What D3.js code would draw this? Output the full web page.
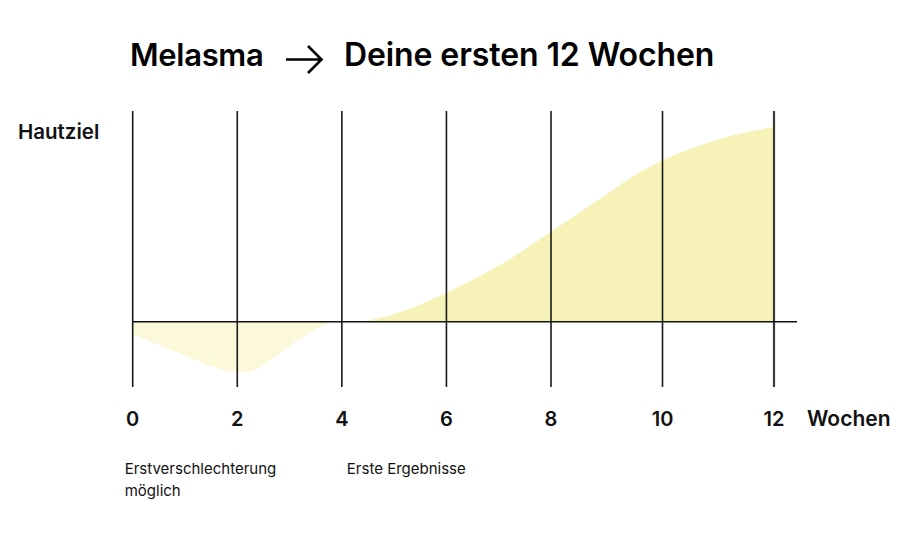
<!DOCTYPE html>
<html><head><meta charset="utf-8">
<script src="https://cdn.jsdelivr.net/npm/d3@7"></script>
<style>body{margin:0;background:#fff}svg{display:block}text{font-family:Inter,Roboto,"Liberation Sans",Arial,sans-serif}</style>
</head><body><svg id="c" width="908" height="543"></svg>
<script>
const tickWeeks = [0, 2, 4, 6, 8, 10, 12];
const tickLabels = ["0", "2", "4", "6", "8", "10", "12"];
const negWeeks = [0, 0.5, 1, 1.5, 2, 2.2, 2.5, 3, 3.5, 3.8];
const negValues = [-6, -11, -16, -21, -24, -23.8, -20.5, -11.5, -3.5, 0];
const posWeeks = [4.4, 5, 6, 7, 8, 9, 9.6, 10, 11, 12];
const posValues = [0, 3.5, 13.7, 26.5, 42.7, 60.5, 71, 76.5, 86.5, 92.4];
const titleLeft = "Melasma";
const titleRight = "Deine ersten 12 Wochen";
const yLabel = "Hautziel";
const xLabel = "Wochen";
const notes = [{week: 0, lines: ["Erstverschlechterung", "möglich"]}, {week: 4, lines: ["Erste Ergebnisse"]}];

const svg = d3.select("#c");
const x = d3.scaleLinear().domain([0, 8, 12]).range([132.7, 551, 774]);
const y = d3.scaleLinear().domain([0, 100]).range([321.7, 111]);
const yBottom = 387;

const area = d3.area().x(d => x(d[0])).y0(y(0)).y1(d => y(d[1])).curve(d3.curveMonotoneX);
svg.append("path").datum(d3.zip(negWeeks, negValues)).attr("d", area).attr("fill", "#fcf8da");
svg.append("path").datum(d3.zip(posWeeks, posValues)).attr("d", area).attr("fill", "#f6f2b8");

svg.append("g").selectAll("line").data(tickWeeks).join("line")
  .attr("x1", d => x(d)).attr("x2", d => x(d))
  .attr("y1", y(100)).attr("y2", yBottom)
  .attr("stroke", (d, i) => i === tickWeeks.length - 1 ? "#3a3a3a" : "#1a1a1a")
  .attr("stroke-width", (d, i) => i === tickWeeks.length - 1 ? 2.2 : 1.6);

svg.append("line").attr("x1", x(0)).attr("x2", 797).attr("y1", y(0)).attr("y2", y(0))
  .attr("stroke", "#111").attr("stroke-width", 1.6);

svg.append("g").selectAll("text").data(tickWeeks).join("text")
  .attr("x", d => x(d)).attr("y", 426).attr("text-anchor", "middle")
  .attr("font-size", 20).attr("font-weight", 600).attr("fill", "#111")
  .text((d, i) => tickLabels[i]);
svg.append("text").attr("x", 807).attr("y", 426).attr("font-size", 21).attr("font-weight", 600).attr("fill", "#111").text(xLabel);

svg.append("text").attr("x", 18).attr("y", 138.5).attr("font-size", 20.5).attr("font-weight", 600).attr("fill", "#111").text(yLabel);

svg.append("text").attr("x", 130).attr("y", 65.5).attr("font-size", 31).attr("font-weight", 600).attr("letter-spacing", -0.3).attr("fill", "#000").text(titleLeft);
svg.append("path").attr("d", "M286,59.5H321M308,46L321.5,59.5L308,73").attr("fill", "none").attr("stroke", "#000").attr("stroke-width", 2.6);
svg.append("text").attr("x", 344).attr("y", 66).attr("font-size", 32).attr("font-weight", 600).attr("letter-spacing", -0.1).attr("fill", "#000").text(titleRight);

const noteDx = [-8, 5];
notes.forEach((n, k) => {
  const nx = x(n.week) + noteDx[k];
  const t = svg.append("text").attr("x", nx).attr("y", 474).attr("font-size", 15).attr("fill", "#111");
  n.lines.forEach((l, i) => t.append("tspan").attr("x", nx).attr("dy", i ? 22 : 0).text(l));
});
</script></body></html>
